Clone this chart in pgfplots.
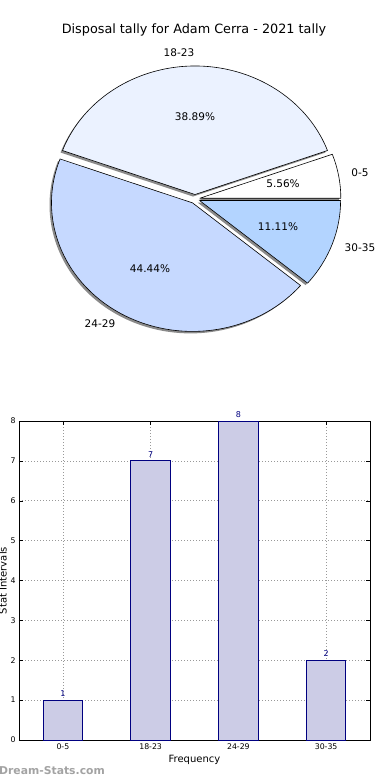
\documentclass[border=0pt]{standalone}
\usepackage{pgfplots}
\pgfplotsset{compat=1.18}
\usepackage{pgfplotstable}
\usepackage{fontspec}
\setmainfont{DejaVu Sans}
\definecolor{pieA}{HTML}{FFFFFF}
\definecolor{pieB}{HTML}{EBF2FF}
\definecolor{pieC}{HTML}{C6D9FF}
\definecolor{pieD}{HTML}{B3D4FF}
\definecolor{barfill}{HTML}{CCCCE6}
\definecolor{baredge}{HTML}{000080}
\definecolor{shadowc}{HTML}{8A8A8A}

\pgfplotstableread{
label value
0-5 1
18-23 7
24-29 8
30-35 2
}\pietable

% one pie wedge: start angle, end angle, path options
\newcommand\pieslice[3]{%
  \path[#3] (axis cs:{195+4.9*cos((#1+#2)/2)},{199-4.5*sin((#1+#2)/2)})
    -- ++(#1:141pt and 128.5pt)
    arc[start angle=#1, end angle=#2, x radius=141pt, y radius=128.5pt] -- cycle;}

\begin{document}
\pgfplotstablegetelem{0}{value}\of\pietable\edef\vA{\pgfplotsretval}%
\pgfplotstablegetelem{1}{value}\of\pietable\edef\vB{\pgfplotsretval}%
\pgfplotstablegetelem{2}{value}\of\pietable\edef\vC{\pgfplotsretval}%
\pgfplotstablegetelem{3}{value}\of\pietable\edef\vD{\pgfplotsretval}%
\pgfmathsetmacro\tot{\vA+\vB+\vC+\vD}%
\pgfmathsetmacro\bA{360*\vA/\tot}%
\pgfmathsetmacro\bB{360*(\vA+\vB)/\tot}%
\pgfmathsetmacro\bC{360*(\vA+\vB+\vC)/\tot}%
\begin{tikzpicture}
\path[use as bounding box] (0,0) rectangle (390pt,780pt);
% ---- pie (pixel coordinate axis) ----
\begin{axis}[at={(0pt,0pt)}, anchor=south west, scale only axis,
  width=390pt, height=780pt, xmin=0, xmax=390, ymin=0, ymax=780,
  y dir=reverse, hide axis, clip=false]
  % shadows
  \pieslice{0}{\bA}{fill=shadowc, xshift=-2pt, yshift=-2pt}
  \pieslice{\bA}{\bB}{fill=shadowc, xshift=-2pt, yshift=-2pt}
  \pieslice{\bB}{\bC}{fill=shadowc, xshift=-2pt, yshift=-2pt}
  \pieslice{\bC}{360}{fill=shadowc, xshift=-2pt, yshift=-2pt}
  % wedges
  \pieslice{0}{\bA}{fill=pieA, draw=black, line width=0.6pt, line join=round}
  \pieslice{\bA}{\bB}{fill=pieB, draw=black, line width=0.6pt, line join=round}
  \pieslice{\bB}{\bC}{fill=pieC, draw=black, line width=0.6pt, line join=round}
  \pieslice{\bC}{360}{fill=pieD, draw=black, line width=0.6pt, line join=round}
  % texts
  \node[font=\fontsize{12.8}{14}\selectfont] at (axis cs:194,30) {Disposal tally for Adam Cerra - 2021 tally};
  \begin{scope}[every node/.style={font=\fontsize{10.5}{12}\selectfont}]
  \node at (axis cs:179,53) {18-23};
  \node at (axis cs:360,173) {0-5};
  \node at (axis cs:360,248) {30-35};
  \node at (axis cs:100,324) {24-29};
  \node at (axis cs:195,117) {38.89\%};
  \node at (axis cs:283,184) {5.56\%};
  \node at (axis cs:278,227) {11.11\%};
  \node at (axis cs:150,269) {44.44\%};
  \end{scope}
  \node[anchor=west, text=black!36, font=\bfseries\fontsize{10.8}{12}\selectfont, inner sep=0pt] at (axis cs:-1,771) {Dream-Stats.com};
\end{axis}
% ---- bar chart ----
\begin{axis}[at={(19pt,40pt)}, anchor=south west, scale only axis,
  width=351pt, height=319pt,
  xmin=-0.5, xmax=3.5, ymin=0, ymax=8,
  xtick={0,1,2,3}, xticklabels={0-5,18-23,24-29,30-35},
  ytick={0,1,...,8},
  grid=major, grid style={dash pattern=on 1pt off 2pt, black!40, line width=0.6pt},
  tick align=inside, major tick length=4pt,
  tick style={black, line width=0.5pt},
  axis line style={black, line width=0.8pt},
  ticklabel style={font=\fontsize{7.8}{9}\selectfont},
  /pgf/number format/assume math mode=true,
  xlabel={Frequency}, ylabel={Stat Intervals},
  xlabel style={at={(axis description cs:0.5,-0.0627)}, anchor=center, font=\fontsize{10}{11}\selectfont},
  ylabel style={at={(axis description cs:-0.0456,0.5)}, anchor=center, font=\fontsize{10}{11}\selectfont},
  clip=false, axis on top=false]
  \addplot[ybar, bar width=0.45, fill=barfill, draw=baredge, line width=0.8pt,
    nodes near coords, every node near coord/.append style={text=baredge, font=\fontsize{8}{9}\selectfont, yshift=0pt}]
    table[x expr=\coordindex, y=value]{\pietable};
\end{axis}
\end{tikzpicture}
\end{document}
